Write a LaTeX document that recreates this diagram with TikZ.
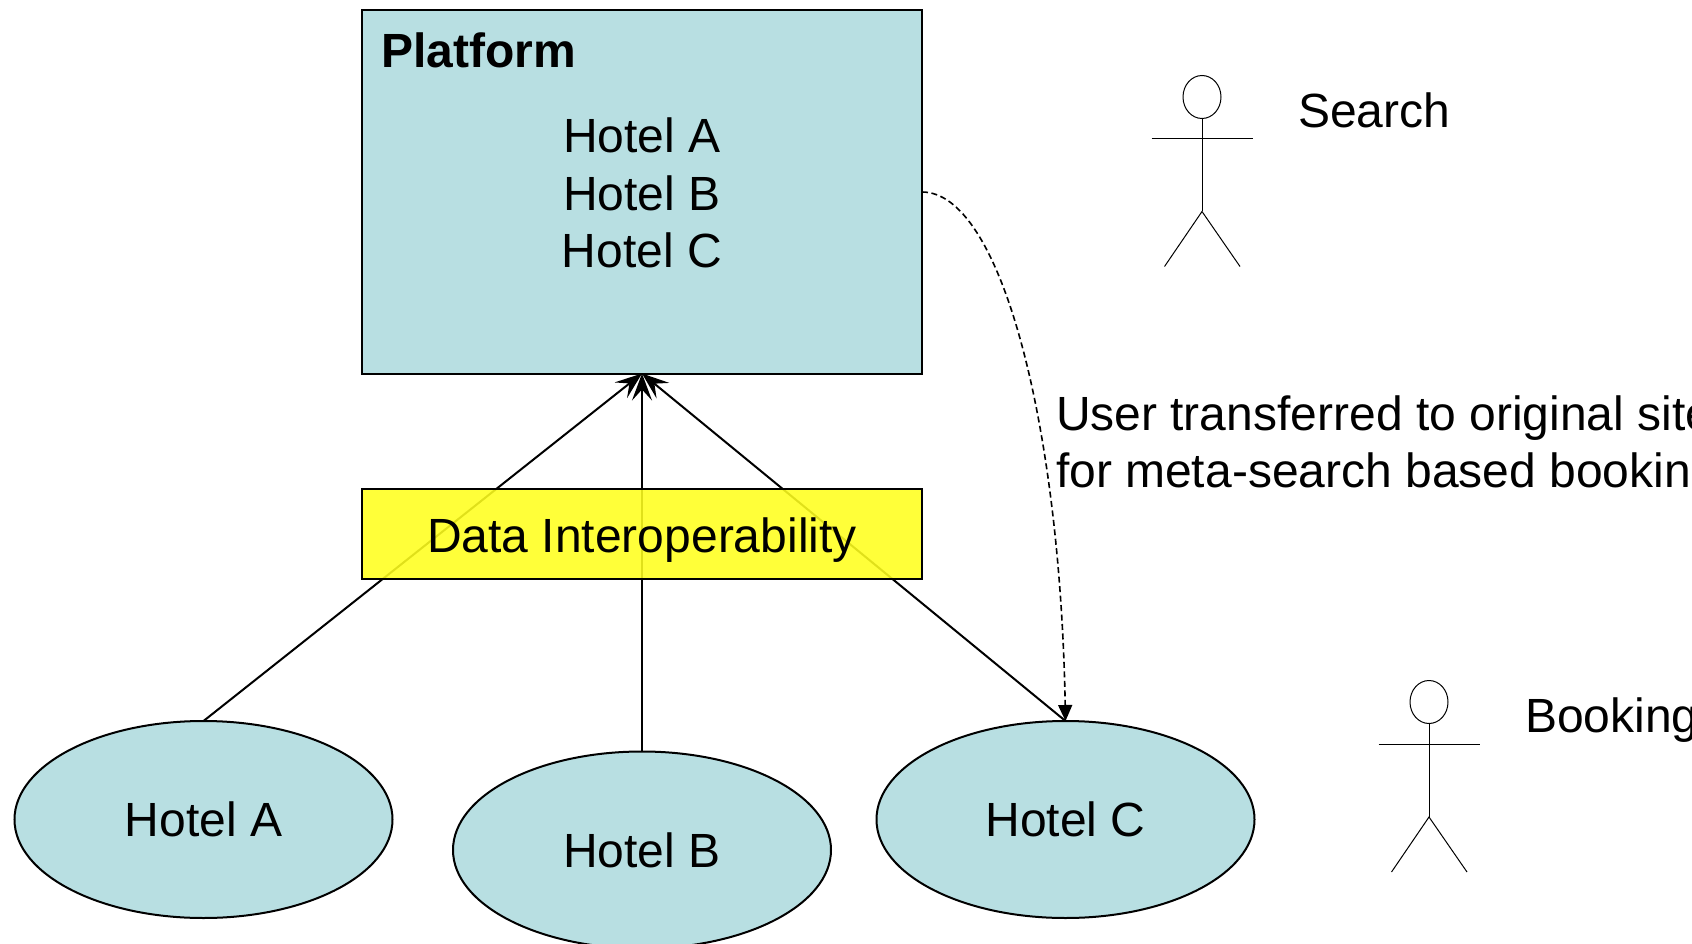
\documentclass[tikz,border=0pt]{standalone}
\usepackage{fontspec}
\setmainfont{Liberation Sans}
\usetikzlibrary{shapes.geometric,arrows.meta}
\definecolor{paleteal}{HTML}{B8DFE2}
\definecolor{dataYellow}{HTML}{FFFF1E}
\tikzset{
  txt/.style={font=\fontsize{48}{57.5}\selectfont, inner sep=0pt, outer sep=0pt},
  boxnode/.style={draw=black, line width=2pt, fill=paleteal, rectangle, inner sep=0pt, outer sep=0pt, minimum width=560pt},
  hotel/.style={txt, draw=black, line width=2pt, fill=paleteal, ellipse, minimum width=378pt, minimum height=197pt, text height=34pt, text depth=0pt},
  feed/.style={draw=black, line width=2pt, -{Stealth[length=27pt,width=20pt,inset=11pt]}},
  transfer/.style={draw=black, line width=1.6pt, dash pattern=on 6pt off 3.5pt, -{Triangle[length=16pt,width=14pt]}},
  actorline/.style={draw=black, line width=1pt}
}
\begin{document}
\begin{tikzpicture}[x=1pt,y=-1pt]
\useasboundingbox (0,0) rectangle (1692,944);
\clip (0,0) rectangle (1692,944);
% boxes and ellipses
\node[boxnode, minimum height=363pt] (platform) at (642,192) {};
\node[hotel] (hotelA) at (203.5,819.5) {Hotel A};
\node[hotel] (hotelB) at (642,850) {Hotel B};
\node[hotel] (hotelC) at (1065.5,819.5) {Hotel C};
\node[txt, font=\fontsize{48}{57.5}\selectfont\bfseries, anchor=base west] (ptitle) at (381,68) {Platform};
\node[txt, anchor=base, align=center] (plist) at (642,267.5) {Hotel A\\Hotel B\\Hotel C};
% connectors
\draw[feed] (hotelA.north) -- (platform.south);
\draw[feed] (hotelB.north) -- (platform.south);
\draw[feed] (hotelC.north) -- (platform.south);
\draw[transfer] (platform.east) .. controls (1000,192) and (1060,420) .. (hotelC.north);
% translucent band above the lines
\node[draw=black, line width=2pt, fill=dataYellow, fill opacity=0.88, text opacity=1, rectangle, inner sep=0pt, outer sep=0pt, minimum width=560pt, minimum height=90pt, font=\fontsize{48}{57.5}\selectfont, text height=36pt, text depth=0pt] (data) at (642,534) {Data Interoperability};
% right-hand texts
\node[txt, anchor=base west] (search) at (1298,127.5) {Search};
\node[txt, anchor=base west] (booking) at (1525,732) {Booking};
\node[txt, anchor=base west, align=left] (usertext) at (1056,430) {User transferred to original site};
\node[txt, anchor=base west, align=left] (usertextb) at (1056,487.5) {for meta-search based booking};
% actor 1
\draw[actorline] (1202,97) ellipse (19pt and 21.5pt);
\draw[actorline] (1202,118.5) -- (1202,211.5);
\draw[actorline] (1151.5,139) -- (1253,139);
\draw[actorline] (1164.5,266.5) -- (1202,211.5) -- (1240,266.5);
% actor 2
\draw[actorline] (1429,702) ellipse (19pt and 21.5pt);
\draw[actorline] (1429,723.5) -- (1429,817);
\draw[actorline] (1378.5,744) -- (1480,744);
\draw[actorline] (1391.5,872) -- (1429,817) -- (1467,872);
\end{tikzpicture}
\end{document}
